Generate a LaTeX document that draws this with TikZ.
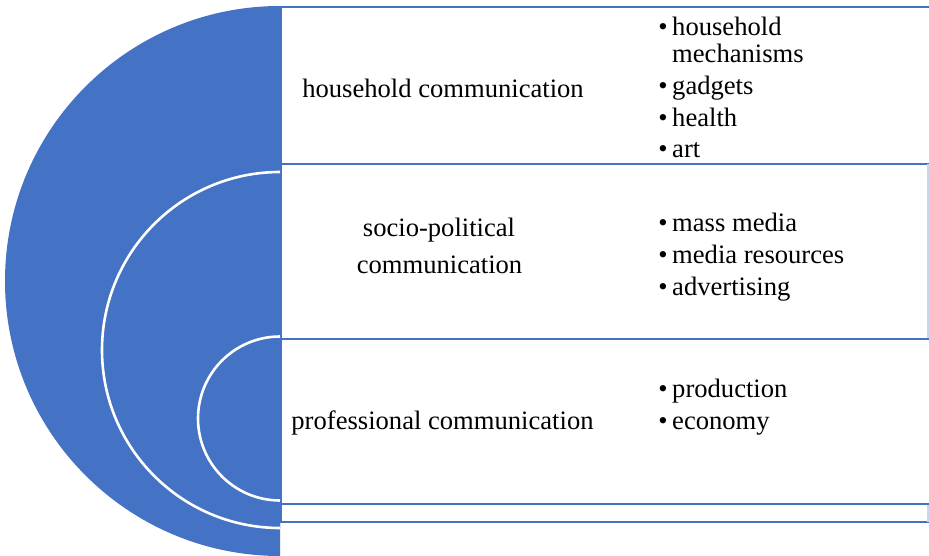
\documentclass[tikz,border=0pt]{standalone}
\usepackage{fontspec}
\setmainfont{Liberation Serif}
\definecolor{accent}{HTML}{4472C4}
\definecolor{edgelight}{HTML}{C9D6EE}
\begin{document}
\begin{tikzpicture}[x=1pt,y=1pt,
  disk/.style={fill=accent,draw=white,line width=2.6pt},
  box/.style={fill=white,draw=accent,line width=2.4pt},
  txt/.style={inner sep=0pt,font=\fontsize{26.6}{32}\selectfont,text=black},
  lbl/.style={txt,anchor=base},
  itm/.style={txt,anchor=base west},
  bul/.style={txt,anchor=base}]
\useasboundingbox (0,0) rectangle (929,555);
\clip (0,0) rectangle (929,555);
% outer half disk
\fill[accent] (280,549) arc[start angle=90,end angle=270,radius=275pt] -- cycle;
% boxes
\draw[box] (281,548) rectangle (940,391);
\fill[white] (281,391) rectangle (928,33);
\draw[accent,line width=2.4pt] (940,391) -- (281,391) -- (281,33) -- (940,33);
\draw[edgelight,line width=1.2pt] (928,391) -- (928,33);
% middle half disk
\draw[disk] (280,383) arc[start angle=90,end angle=270,radius=178pt];
\draw[box] (281,216) rectangle (940,51);
% inner half disk
\draw[disk] (280,218.5) arc[start angle=90,end angle=270,radius=82pt];
% left labels
\node[lbl] (l1) at (443,457) {household communication};
\node[lbl] (l2a) at (439,318) {socio-political};
\node[lbl] (l2b) at (439.5,281) {communication};
\node[lbl] (l3) at (442.5,126) {professional communication};
% bullets
\node[bul] (b1) at (663,519) {•};
\node[itm] (i1a) at (672,519) {household};
\node[itm] (i1b) at (672,492) {mechanisms};
\node[bul] (b2) at (663,460) {•};
\node[itm] (i2) at (672,460) {gadgets};
\node[bul] (b3) at (663,428) {•};
\node[itm] (i3) at (672,428) {health};
\node[bul] (b4) at (663,397) {•};
\node[itm] (i4) at (672,397) {art};
\node[bul] (b5) at (663,323) {•};
\node[itm] (i5) at (672,323) {mass media};
\node[bul] (b6) at (663,291) {•};
\node[itm] (i6) at (672,291) {media resources};
\node[bul] (b7) at (663,259) {•};
\node[itm] (i7) at (672,259) {advertising};
\node[bul] (b8) at (663,158) {•};
\node[itm] (i8) at (672,158) {production};
\node[bul] (b9) at (663,126) {•};
\node[itm] (i9) at (672,126) {economy};
\end{tikzpicture}
\end{document}
